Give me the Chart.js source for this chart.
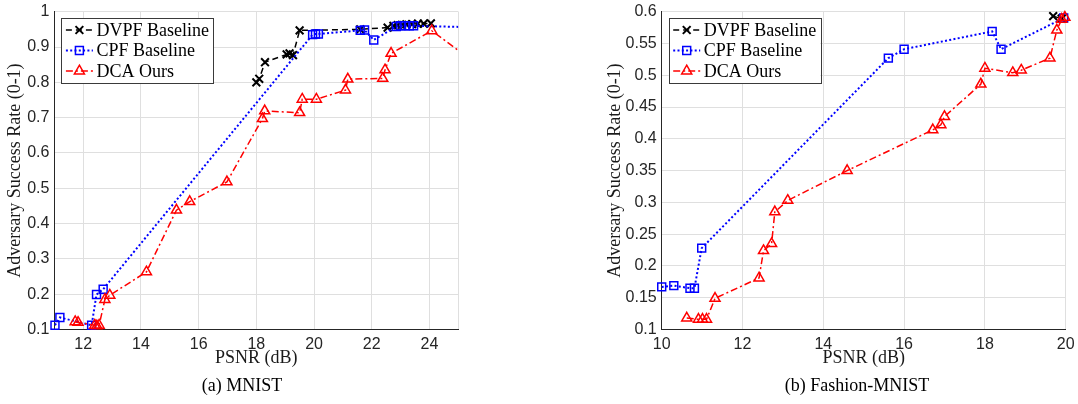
<!DOCTYPE html>
<html>
<head>
<meta charset="utf-8">
<script src="https://cdn.jsdelivr.net/npm/chart.js@4.4.1/dist/chart.umd.min.js"></script>
<style>
  html, body { margin: 0; padding: 0; background: #fff; }
  body { width: 1078px; height: 404px; position: relative; overflow: hidden; }
  canvas { position: absolute; top: 0; }
  #cA { left: 0; }
  #cB { left: 539px; }
  .cap { position: absolute; top: 375px; font-family: "Liberation Serif", "Times New Roman", serif; font-size: 18px; color: #000; transform: translateX(-50%); white-space: nowrap; }
</style>
</head>
<body>
<canvas id="cA" width="539" height="404"></canvas>
<canvas id="cB" width="539" height="404"></canvas>
<div class="cap" style="left:242px">(a) MNIST</div>
<div class="cap" style="left:857px">(b) Fashion-MNIST</div>
<script>
// ---------------- data: (a) MNIST ----------------
const seriesNames = ['DVPF Baseline', 'CPF Baseline', 'DCA Ours'];

const dvpfA_x = [18.0, 18.1, 18.3, 19.05, 19.15, 19.27, 19.5, 21.6, 22.55, 22.75, 22.9, 23.05, 23.2, 23.4, 23.6, 23.8, 24.05];
const dvpfA_y = [0.80, 0.81, 0.857, 0.879, 0.882, 0.877, 0.947, 0.950, 0.955, 0.960, 0.962, 0.963, 0.964, 0.965, 0.966, 0.966, 0.967];

const cpfA_x = [11.02, 11.19, 12.29, 12.46, 12.69, 19.95, 20.05, 20.15, 21.6, 21.75, 22.07, 22.85, 23.0, 23.15, 23.3, 23.45, 26.0];
const cpfA_y = [0.112, 0.134, 0.112, 0.199, 0.214, 0.935, 0.937, 0.937, 0.947, 0.948, 0.920, 0.958, 0.960, 0.960, 0.960, 0.960, 0.955];

const dcaA_x = [11.72, 11.82, 12.4, 12.47, 12.55, 12.75, 12.92, 14.19, 15.23, 15.69, 16.98, 18.21, 18.29, 19.5, 19.59, 20.08, 21.09, 21.17, 22.38, 22.46, 22.67, 24.08, 26.0];
const dcaA_y = [0.122, 0.120, 0.112, 0.110, 0.112, 0.185, 0.197, 0.263, 0.438, 0.462, 0.518, 0.697, 0.719, 0.714, 0.752, 0.752, 0.778, 0.809, 0.811, 0.835, 0.882, 0.946, 0.83];

const xTicksA = [11, 12, 14, 16, 18, 20, 22, 24, 25];
const xLabelsA = ['', '12', '14', '16', '18', '20', '22', '24', ''];
const yTicksA = [0.1, 0.2, 0.3, 0.4, 0.5, 0.6, 0.7, 0.8, 0.9, 1];
const yLabelsA = ['0.1', '0.2', '0.3', '0.4', '0.5', '0.6', '0.7', '0.8', '0.9', '1'];

// ---------------- data: (b) Fashion-MNIST ----------------
const dvpfB_x = [19.69, 19.9];
const dvpfB_y = [0.593, 0.589];

const cpfB_x = [10.0, 10.3, 10.7, 10.81, 10.99, 15.61, 16.0, 18.18, 18.4, 19.95];
const cpfB_y = [0.167, 0.169, 0.165, 0.165, 0.228, 0.527, 0.541, 0.569, 0.541, 0.590];

const dcaB_x = [10.62, 10.91, 11.01, 11.11, 11.32, 12.41, 12.52, 12.72, 12.8, 13.12, 14.59, 16.71, 16.91, 17.0, 17.9, 18.0, 18.69, 18.9, 19.61, 19.78, 19.9, 19.98];
const dcaB_y = [0.118, 0.116, 0.116, 0.116, 0.149, 0.181, 0.224, 0.235, 0.285, 0.303, 0.350, 0.414, 0.422, 0.435, 0.486, 0.511, 0.504, 0.508, 0.527, 0.571, 0.588, 0.591];

const xTicksB = [10, 12, 14, 16, 18, 20];
const xLabelsB = ['10', '12', '14', '16', '18', '20'];
const yTicksB = [0.1, 0.15, 0.2, 0.25, 0.3, 0.35, 0.4, 0.45, 0.5, 0.55, 0.6];
const yLabelsB = ['0.1', '0.15', '0.2', '0.25', '0.3', '0.35', '0.4', '0.45', '0.5', '0.55', '0.6'];

const xTitle = 'PSNR (dB)';
const yTitle = 'Adversary Success Rate (0-1)';

// ---------------- styles ----------------
const SERIF = '"Liberation Serif", "Times New Roman", serif';
const SANS = '"Liberation Sans", Arial, Helvetica, sans-serif';
const AXIS = '#262626';
const GRID = '#dfdfdf';

const styles = [
  { color: '#000000', dash: [6, 4], width: 1.5, point: 'crossRot', radius: 5.5, pw: 2 },
  { color: '#0000ff', dash: [2, 2.3], width: 2, point: 'rect', radius: 5.6, pw: 1.5 },
  { color: '#ff0000', dash: [7, 3, 2, 3], width: 1.5, point: 'triangle', radius: 5.8, pw: 1.5 }
];

function pts(xs, ys) { return xs.map((x, i) => ({ x: x, y: ys[i] })); }

function makeDatasets(list, clip) {
  return list.map((d, i) => {
    const s = styles[i];
    return {
      label: seriesNames[i],
      data: pts(d[0], d[1]),
      showLine: true,
      clip: clip,
      borderColor: s.color,
      borderWidth: s.width,
      borderDash: s.dash,
      backgroundColor: 'rgba(0,0,0,0)',
      pointStyle: s.point,
      pointRadius: s.radius,
      pointHoverRadius: s.radius,
      pointBorderColor: s.color,
      pointBackgroundColor: 'rgba(0,0,0,0)',
      pointBorderWidth: s.pw,
      tension: 0,
      order: 3 - i
    };
  });
}

function drawMarker(ctx, style, x, y, r) {
  ctx.beginPath();
  if (style === 'rect') {
    const h = r * Math.SQRT1_2;
    ctx.rect(x - h, y - h, 2 * h, 2 * h);
  } else if (style === 'triangle') {
    for (let k = 0; k < 3; k++) {
      const a = -Math.PI / 2 + k * 2 * Math.PI / 3;
      const px = x + r * Math.cos(a), py = y + r * Math.sin(a);
      if (k === 0) ctx.moveTo(px, py); else ctx.lineTo(px, py);
    }
    ctx.closePath();
  } else {
    const h = r * Math.SQRT1_2;
    ctx.moveTo(x - h, y - h); ctx.lineTo(x + h, y + h);
    ctx.moveTo(x + h, y - h); ctx.lineTo(x - h, y + h);
  }
  ctx.stroke();
}

const legendPlugin = {
  id: 'boxLegend',
  afterDraw(chart) {
    const ctx = chart.ctx, ca = chart.chartArea;
    const bx = ca.left + 7, by = ca.top + 6.6, bw = 151.6, bh = 65;
    ctx.save();
    ctx.fillStyle = '#ffffff';
    ctx.fillRect(bx, by, bw, bh);
    ctx.strokeStyle = '#3a3a3a';
    ctx.lineWidth = 1;
    ctx.strokeRect(Math.round(bx) + 0.5, Math.round(by) + 0.5, Math.round(bw), Math.round(bh));
    chart.data.datasets.forEach((ds, i) => {
      const s = styles[i];
      const y = by + 11.7 + i * 20.5;
      const x0 = bx + 4.5, x1 = bx + 31.5;
      ctx.strokeStyle = s.color;
      ctx.lineWidth = s.width;
      ctx.setLineDash(s.dash);
      ctx.beginPath(); ctx.moveTo(x0, y); ctx.lineTo(x1, y); ctx.stroke();
      ctx.setLineDash([]);
      ctx.lineWidth = s.pw;
      drawMarker(ctx, s.point, (x0 + x1) / 2, y, s.radius);
      ctx.fillStyle = '#000';
      ctx.font = '18px ' + SERIF;
      ctx.textBaseline = 'middle';
      ctx.textAlign = 'left';
      ctx.fillText(ds.label, bx + 35, y + 1);
    });
    ctx.restore();
  }
};

function makeChart(id, datasets, clip, xr, yr, xT, xL, yT, yL, pad, yWidth) {
  const xH = 404 - pad.bottom - 329.5;
  return new Chart(document.getElementById(id), {
    type: 'scatter',
    data: { datasets: makeDatasets(datasets, clip) },
    options: {
      responsive: false,
      animation: false,
      devicePixelRatio: 1,
      layout: { padding: pad },
      plugins: { legend: { display: false }, tooltip: { enabled: false } },
      scales: {
        x: {
          type: 'linear', min: xr[0], max: xr[1],
          afterBuildTicks: (sc) => { sc.ticks = xT.map(v => ({ value: v })); },
          afterFit: (sc) => { sc.height = xH; sc.paddingLeft = 0; sc.paddingRight = 0; },
          ticks: {
            autoSkip: false, maxRotation: 0, minRotation: 0, padding: 5,
            color: AXIS, font: { family: SANS, size: 16 },
            callback: (v, i) => xL[i]
          },
          grid: { color: GRID, lineWidth: 1, drawTicks: false },
          border: { display: true, color: AXIS, width: 1 },
          title: { display: true, text: xTitle, color: '#1a1a1a', font: { family: SERIF, size: 18 }, padding: { top: 0, bottom: 0 } }
        },
        y: {
          type: 'linear', min: yr[0], max: yr[1],
          afterBuildTicks: (sc) => { sc.ticks = yT.map(v => ({ value: v })); },
          afterFit: (sc) => { sc.width = yWidth; sc.paddingTop = 0; sc.paddingBottom = 0; },
          ticks: {
            autoSkip: false, padding: 5,
            color: AXIS, font: { family: SANS, size: 16 },
            callback: (v, i) => yL[i]
          },
          grid: { color: GRID, lineWidth: 1, drawTicks: false },
          border: { display: true, color: AXIS, width: 1 },
          title: { display: true, text: yTitle, color: '#1a1a1a', font: { family: SERIF, size: 18 }, padding: { top: 4, bottom: 0 } }
        }
      }
    },
    plugins: [legendPlugin]
  });
}

makeChart('cA',
  [[dvpfA_x, dvpfA_y], [cpfA_x, cpfA_y], [dcaA_x, dcaA_y]],
  { left: 8, right: 0, top: 8, bottom: 8 },
  [11, 25], [0.1, 1], xTicksA, xLabelsA, yTicksA, yLabelsA,
  { left: 0, right: 80.7, top: 11.7, bottom: 35 }, 54.4);

makeChart('cB',
  [[dvpfB_x, dvpfB_y], [cpfB_x, cpfB_y], [dcaB_x, dcaB_y]],
  { left: 8, right: 8, top: 8, bottom: 8 },
  [10, 20], [0.1, 0.6], xTicksB, xLabelsB, yTicksB, yLabelsB,
  { left: 61.2, right: 12.3, top: 11.7, bottom: 35 }, 61.5);
</script>
</body>
</html>
